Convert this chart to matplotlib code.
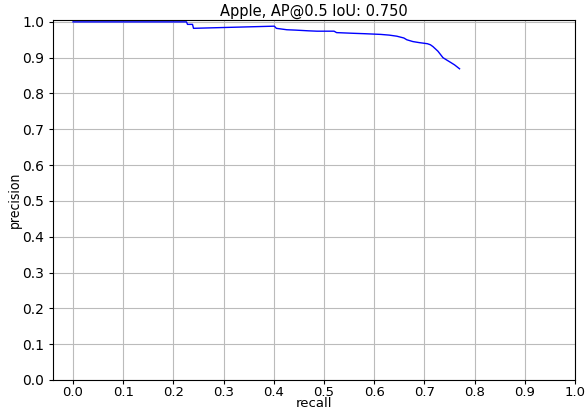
import matplotlib
matplotlib.use("Agg")
import matplotlib.pyplot as plt

title = "Apple, AP@0.5 IoU: 0.750"
recall = [0.0, 0.226, 0.228, 0.238, 0.240, 0.401, 0.405, 0.41, 0.426, 0.443, 0.469, 0.486,
          0.52, 0.525, 0.56, 0.58, 0.613, 0.63, 0.645, 0.659, 0.665, 0.677, 0.69,
          0.706, 0.712, 0.717, 0.727, 0.737, 0.745, 0.752, 0.76, 0.77]
precision = [1.0, 1.0, 0.993, 0.993, 0.982, 0.988, 0.982, 0.981, 0.978, 0.977, 0.975, 0.974,
             0.974, 0.970, 0.968, 0.967, 0.965, 0.963, 0.960, 0.955, 0.950, 0.945, 0.942,
             0.939, 0.936, 0.931, 0.918, 0.900, 0.893, 0.887, 0.880, 0.869]
xticks = [0.0, 0.1, 0.2, 0.3, 0.4, 0.5, 0.6, 0.7, 0.8, 0.9, 1.0]
yticks = [0.0, 0.1, 0.2, 0.3, 0.4, 0.5, 0.6, 0.7, 0.8, 0.9, 1.0]

fig = plt.figure(figsize=(5.86, 4.12), dpi=100)
ax = fig.add_axes([0.0904, 0.0777, 0.8908, 0.874])
ax.plot(recall, precision, color="blue", linewidth=1.0)
ax.set_xlim(-0.04, 1.0)
ax.set_ylim(0.0, 1.0055)
ax.set_xticks(xticks)
ax.set_yticks(yticks)
ax.set_xticklabels(["%.1f" % t for t in xticks])
ax.set_yticklabels(["%.1f" % t for t in yticks])
ax.tick_params(labelsize=10, length=3)
ax.tick_params(axis="x", pad=1, labelsize=9.5)
ax.grid(True, color="#bbbbbb", linewidth=0.8)
ax.set_xlabel("recall", fontsize=9.5, labelpad=-1)
ax.set_ylabel("precision", fontsize=10, labelpad=0, fontstretch="condensed")
ax.set_title(title, fontsize=10.5, pad=3)
fig.savefig("out.png", dpi=100)
